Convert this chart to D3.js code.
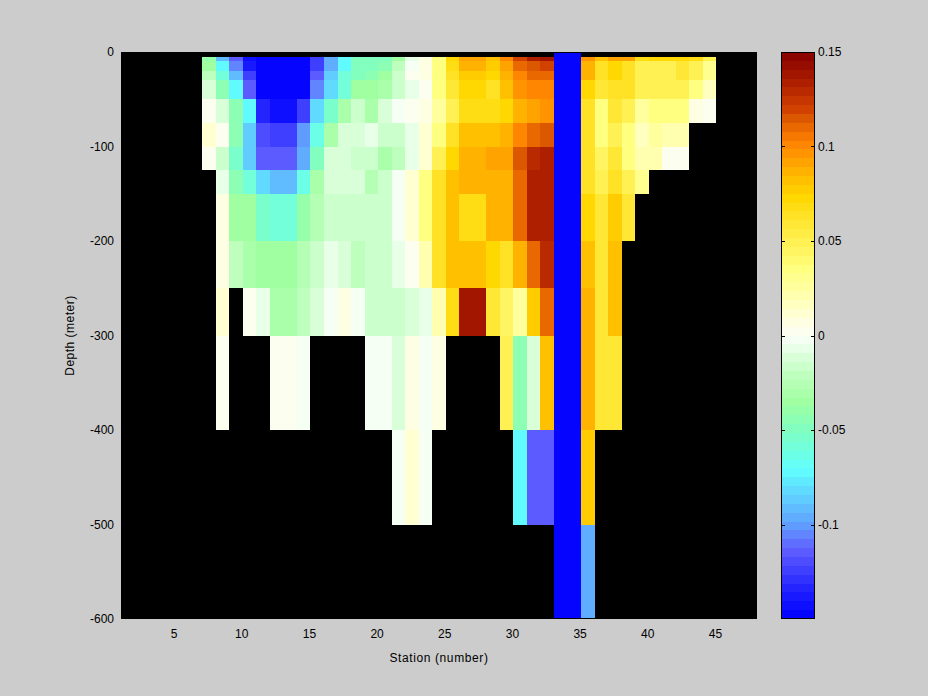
<!DOCTYPE html>
<html><head><meta charset="utf-8">
<script src="https://cdn.jsdelivr.net/npm/d3@7"></script>
<style>
html,body{margin:0;padding:0;background:#cccccc;}
svg{display:block;}
text{font-family:"Liberation Sans",Arial,sans-serif;fill:#000;}
</style></head>
<body>
<svg id="chart" width="928" height="696"></svg>
<script>
// ---- data ----
// station columns (left edge of each cell, cell spans station..station+1)
const stations = [7,8,9,10,11,12,13,14,15,16,17,18,19,20,21,22,23,24,25,26,27,28,29,30,31,32,33,34,35,36,37,38,39,40,41,42,43,44];
// depth edges (meters, positive down)
const depthEdges = [0,5,10,20,30,50,75,100,125,150,200,250,300,400,500,600];
const N = null, B = -0.15;
// one array per depth layer (top edge in the name), values per station column
const d0   = [N,N,N,N,N,N,N,N,N,N,N,N,N,N,N,N,N,N,N,N,N,N,N,N,N,N,B,B,N,N,N,N,N,N,N,N,N,N];
const d5   = [-0.04,-0.09,-0.113,-0.142,-0.149,-0.149,-0.149,-0.149,-0.124,-0.095,-0.071,-0.05,-0.047,-0.05,-0.036,-0.007,0.005,0.035,0.072,0.092,0.092,0.082,0.1,0.12,0.133,0.14,B,B,0.095,0.082,0.09,0.09,0.068,0.072,0.072,0.072,0.068,0.048];
const d10  = [-0.036,-0.071,-0.106,-0.14,-0.149,-0.149,-0.149,-0.149,-0.124,-0.095,-0.071,-0.05,-0.047,-0.043,-0.02,-0.003,0.005,0.035,0.068,0.087,0.087,0.077,0.092,0.108,0.113,0.118,B,B,0.085,0.062,0.072,0.065,0.048,0.05,0.05,0.058,0.048,0.03];
const d20  = [-0.02,-0.058,-0.09,-0.124,-0.149,-0.149,-0.149,-0.149,-0.113,-0.085,-0.058,-0.047,-0.043,-0.036,-0.017,0.003,0.005,0.035,0.062,0.077,0.077,0.072,0.087,0.103,0.108,0.108,B,B,0.085,0.062,0.072,0.065,0.048,0.05,0.05,0.058,0.048,0.03];
const d30  = [-0.01,-0.043,-0.071,-0.113,-0.149,-0.149,-0.149,-0.149,-0.106,-0.081,-0.058,-0.036,-0.036,-0.03,-0.017,-0.007,0.003,0.035,0.058,0.072,0.072,0.065,0.082,0.097,0.1,0.1,B,B,0.072,0.058,0.065,0.062,0.048,0.048,0.048,0.048,0.035,0.017];
const d50  = [0.003,-0.01,-0.043,-0.071,-0.135,-0.143,-0.143,-0.124,-0.083,-0.055,-0.03,-0.017,-0.03,-0.01,-0.003,0.003,0.008,0.025,0.048,0.068,0.068,0.068,0.072,0.087,0.09,0.095,B,B,0.062,0.035,0.058,0.048,0.025,0.035,0.035,0.035,0.008,0.003];
const d75  = [0.012,0.001,-0.043,-0.085,-0.118,-0.124,-0.124,-0.1,-0.062,-0.032,-0.01,-0.01,-0.007,-0.017,-0.017,-0.007,0.01,0.035,0.065,0.08,0.08,0.08,0.085,0.103,0.112,0.116,B,B,0.062,0.035,0.048,0.035,0.017,0.025,0.02,0.02,N,N];
const d100 = [0.003,-0.015,-0.053,-0.085,-0.113,-0.113,-0.113,-0.095,-0.05,-0.01,-0.01,-0.017,-0.017,-0.03,-0.02,-0.007,0.01,0.048,0.072,0.085,0.085,0.09,0.09,0.116,0.127,0.133,B,B,0.062,0.045,0.058,0.035,0.02,0.02,0.003,0.003,N,N];
const d125 = [N,-0.005,-0.043,-0.058,-0.083,-0.09,-0.09,-0.065,-0.032,-0.01,-0.01,-0.012,-0.025,-0.015,-0.002,0.012,0.035,0.062,0.08,0.085,0.085,0.087,0.087,0.112,0.133,0.133,B,B,0.062,0.048,0.065,0.048,0.03,N,N,N,N,N];
const d150 = [N,0.005,-0.036,-0.036,-0.053,-0.06,-0.06,-0.042,-0.025,-0.015,-0.015,-0.017,-0.015,-0.015,-0.002,0.012,0.035,0.062,0.08,0.066,0.066,0.085,0.085,0.112,0.133,0.133,B,B,0.072,0.058,0.077,0.058,N,N,N,N,N,N];
const d200 = [N,0.005,-0.02,-0.03,-0.033,-0.033,-0.033,-0.025,-0.017,-0.005,-0.01,-0.02,-0.015,-0.015,-0.006,0.001,0.02,0.062,0.08,0.08,0.08,0.072,0.065,0.085,0.112,0.127,B,B,0.08,0.06,0.082,N,N,N,N,N,N,N];
const d250 = [N,0.012,N,0.001,-0.005,-0.03,-0.03,-0.02,-0.01,-0.002,0.005,-0.002,-0.015,-0.015,-0.015,-0.01,-0.005,0.02,0.066,0.14,0.14,0.058,0.045,0.025,0.077,0.108,B,B,0.085,0.06,0.08,N,N,N,N,N,N,N];
const d300 = [N,0.001,N,N,N,0.001,0.001,-0.003,N,N,N,N,-0.003,-0.003,-0.01,0.005,-0.002,0.005,N,N,N,N,0.05,-0.043,-0.01,0.08,B,B,0.085,0.06,0.06,N,N,N,N,N,N,N];
const d400 = [N,N,N,N,N,N,N,N,N,N,N,N,N,N,-0.003,0.012,-0.003,N,N,N,N,N,N,-0.071,-0.113,-0.113,B,B,0.077,N,N,N,N,N,N,N,N,N];
const d500 = [N,N,N,N,N,N,N,N,N,N,N,N,N,N,N,N,N,N,N,N,N,N,N,N,N,N,B,B,-0.095,N,N,N,N,N,N,N,N,N];
const layers = [d0,d5,d10,d20,d30,d50,d75,d100,d125,d150,d200,d250,d300,d400,d500];

const xTicks = [5,10,15,20,25,30,35,40,45];
const yTicks = [0,-100,-200,-300,-400,-500,-600];
const cbTicks = [0.15,0.1,0.05,0,-0.05,-0.1];

// colormap anchors (value -> colour), sampled into 64 levels
const cmapVals = [-0.15,-0.135,-0.124,-0.113,-0.1,-0.071,-0.05,-0.035,-0.02,-0.007,0,0.01,0.025,0.035,0.05,0.065,0.073,0.085,0.097,0.103,0.113,0.12,0.133,0.15];
const cmapCols = ["#0000ff","#2020ff","#4040ff","#6060ff","#60a0ff","#60ffff","#80ffc0","#a0ffa0","#c0ffc0","#e8ffe8","#fbfff8","#ffffd8","#ffffa0","#ffff80","#fff050","#ffe020","#ffd800","#ffb800","#ff9000","#ff8000","#e06000","#d04000","#b02000","#840000"];

// ---- drawing ----
const svg = d3.select("#chart");
const L = 121, R = 757, T = 52, Bt = 619;
const x = d3.scaleLinear().domain([1,48]).range([L,R]);
const y = d3.scaleLinear().domain([0,-600]).range([T,Bt]);
const cmin = -0.15, cmax = 0.15, nLev = 64;
const interp = d3.scaleLinear().domain(cmapVals).range(cmapCols).interpolate(d3.interpolateRgb).clamp(true);
const levels = d3.range(nLev).map(k => interp(cmin + (k+0.5)*(cmax-cmin)/nLev));
const color = d3.scaleQuantize().domain([cmin,cmax]).range(levels);

// axes background
svg.append("rect").attr("x",L).attr("y",T).attr("width",R-L).attr("height",Bt-T).attr("fill","#000");

const cells = [];
layers.forEach((row,i) => row.forEach((v,j) => {
  if (v !== null) cells.push({s:stations[j], d0:depthEdges[i], d1:depthEdges[i+1], v});
}));
svg.append("g").selectAll("rect").data(cells).join("rect")
  .attr("x", d => x(d.s))
  .attr("y", d => y(-d.d0))
  .attr("width", d => x(d.s+1)-x(d.s))
  .attr("height", d => y(-d.d1)-y(-d.d0))
  .attr("fill", d => color(Math.max(cmin, Math.min(cmax-1e-9, d.v))))
  .attr("shape-rendering","crispEdges");

svg.append("rect").attr("x",L+0.5).attr("y",T+0.5).attr("width",R-L-1).attr("height",Bt-T-1)
  .attr("fill","none").attr("stroke","#000");

// x tick labels
svg.append("g").selectAll("text").data(xTicks).join("text")
  .attr("x", d => x(d)-1).attr("y", Bt+19).attr("text-anchor","middle")
  .style("font-size","12px").text(d => d);
// y tick labels
svg.append("g").selectAll("text").data(yTicks).join("text")
  .attr("x", L-7).attr("y", d => y(d)+4).attr("text-anchor","end")
  .style("font-size","12px").text(d => d);
// axis titles
svg.append("text").attr("x",(L+R)/2).attr("y",Bt+43).attr("text-anchor","middle")
  .style("font-size","12px").style("letter-spacing","0.6px").text("Station (number)");
svg.append("text").attr("transform",`translate(${L-47},${(T+Bt)/2}) rotate(-90)`).attr("text-anchor","middle")
  .style("font-size","12px").style("letter-spacing","0.5px").text("Depth (meter)");

// colorbar
const cbL = 781, cbR = 815;
const cy = d3.scaleLinear().domain([cmin,cmax]).range([Bt,T]);
svg.append("g").selectAll("rect").data(levels).join("rect")
  .attr("x",cbL).attr("width",cbR-cbL)
  .attr("y",(c,k) => cy(cmin+(k+1)*(cmax-cmin)/nLev))
  .attr("height",(c,k) => cy(cmin+k*(cmax-cmin)/nLev)-cy(cmin+(k+1)*(cmax-cmin)/nLev))
  .attr("fill",c => c).attr("shape-rendering","crispEdges");
svg.append("rect").attr("x",cbL+0.5).attr("y",T+0.5).attr("width",cbR-cbL-1).attr("height",Bt-T-1)
  .attr("fill","none").attr("stroke","#000");
const cbt = svg.append("g").selectAll("g").data(cbTicks).join("g");
cbt.append("line").attr("x1",cbL).attr("x2",cbL+4).attr("y1",d=>Math.round(cy(d))+0.5).attr("y2",d=>Math.round(cy(d))+0.5).attr("stroke","#000");
cbt.append("line").attr("x1",cbR-4).attr("x2",cbR).attr("y1",d=>Math.round(cy(d))+0.5).attr("y2",d=>Math.round(cy(d))+0.5).attr("stroke","#000");
cbt.append("text").attr("x",cbR+3).attr("y",d=>cy(d)+4).style("font-size","12px").text(d => d);
</script>
</body></html>
